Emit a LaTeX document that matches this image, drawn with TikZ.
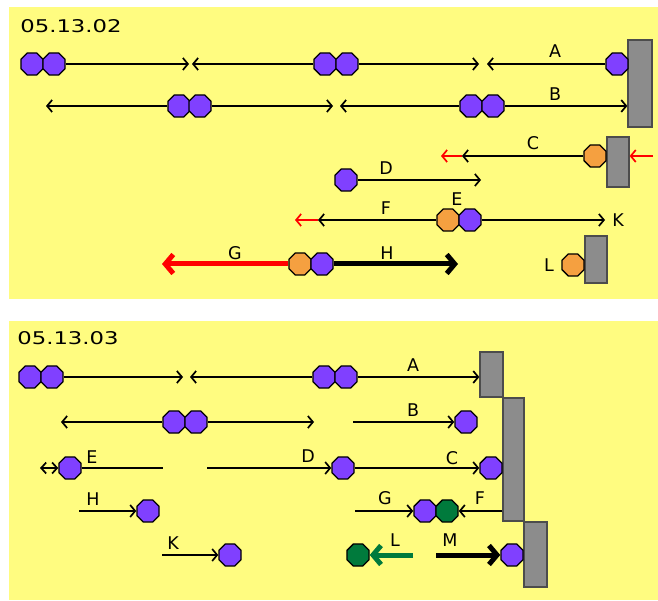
\documentclass[tikz,border=0pt]{standalone}
\usepackage{fontspec}
\setmainfont{DejaVu Sans}
\usetikzlibrary{shapes.geometric,arrows.meta}
\definecolor{panel}{RGB}{255,252,128}
\definecolor{purp}{RGB}{128,64,255}
\definecolor{oran}{RGB}{245,160,64}
\definecolor{grn}{RGB}{0,122,60}
\definecolor{wallgray}{RGB}{140,140,140}
\tikzset{
  car/.style={regular polygon, regular polygon sides=8, minimum size=24pt, inner sep=0pt, draw=black, line width=1.3pt},
  pu/.style={car, fill=purp},
  orc/.style={car, fill=oran},
  gnc/.style={car, fill=grn},
  trk/.style={line width=1.7pt, draw=black},
  hd/.style={-{Straight Barb[length=5pt,width=12pt]}},
  bigarrow/.style={line width=5pt, -{Straight Barb[length=8pt,width=19pt]}},
  wallbox/.style={rectangle, draw=black!70, fill=wallgray, line width=1.3pt, inner sep=0pt},
  lbl/.style={font=\fontsize{17.5}{17.5}\selectfont, inner sep=0pt},
  datelbl/.style={font=\fontsize{17.5}{17.5}\selectfont, inner sep=0pt}
}
\begin{document}
\begin{tikzpicture}[x=1pt,y=-1pt]
\useasboundingbox (0,0) rectangle (658,601);
\fill[white] (0,0) rectangle (658,601);
\fill[panel] (9,7) rectangle (658,299);
\fill[panel] (9,321) rectangle (658,600);

% ================= panel 1 =================
\node[datelbl] (d1) at (71,26) {\scalebox{1.3}[1]{05.13.02}};

% walls
\node[wallbox, minimum width=24pt, minimum height=87pt] (w1) at (640,83.5) {};
\node[wallbox, minimum width=22pt, minimum height=50pt] (w2) at (618,162) {};
\node[wallbox, minimum width=22pt, minimum height=47pt] (w3) at (596,259.5) {};

% row A
\node[pu] (pa1) at (32,64) {};
\node[pu] (pa2) at (54,64) {};
\node[pu] (pa3) at (325,64) {};
\node[pu] (pa4) at (347,64) {};
\node[pu] (pa5) at (617,64) {};
\coordinate (pA1) at (189,64);
\coordinate (pA2) at (192,64);
\coordinate (pA3) at (479,64);
\coordinate (pA4) at (487,64);
\draw[trk,hd] (pa2.east) -- (pA1);
\draw[trk,hd] (pa3.west) -- (pA2);
\draw[trk,hd] (pa4.east) -- (pA3);
\draw[trk,hd] (pa5.west) -- (pA4);
\node[lbl] (lA1) at (555,51) {A};

% row B
\node[pu] (pb1) at (179,106) {};
\node[pu] (pb2) at (200,106) {};
\node[pu] (pb3) at (471,106) {};
\node[pu] (pb4) at (493,106) {};
\coordinate (pB1) at (46,106);
\coordinate (pB2) at (333,106);
\coordinate (pB3) at (340,106);
\draw[trk,hd] (pb1.west) -- (pB1);
\draw[trk,hd] (pb2.east) -- (pB2);
\draw[trk,hd] (pb3.west) -- (pB3);
\draw[trk,hd] (pb4.east) -- (w1.west |- pb4);
\node[lbl] (lB1) at (555,94) {B};

% row C
\node[orc] (pc) at (595,156) {};
\coordinate (pC1) at (462,156);
\coordinate (pC2) at (441,156);
\coordinate (pC3) at (653,156);
\draw[trk,hd] (pc.west) -- (pC1);
\draw[trk,hd,draw=red] (pC1) -- (pC2);
\draw[trk,hd,draw=red] (pC3) -- (w2.east |- pC3);
\node[lbl] (lC1) at (533,143) {C};

% row D
\node[pu] (pd) at (346,180) {};
\coordinate (pD1) at (481,180);
\draw[trk,hd] (pd.east) -- (pD1);
\node[lbl] (lD1) at (386,168) {D};

% row E/F/K
\node[orc] (pe1) at (448,220) {};
\node[pu] (pe2) at (470,220) {};
\coordinate (pF1) at (318,220);
\coordinate (pF2) at (295,220);
\coordinate (pK1) at (605,220);
\draw[trk,hd] (pe2.east) -- (pK1);
\draw[trk,hd] (pe1.west) -- (pF1);
\draw[trk,hd,draw=red] (pF1) -- (pF2);
\node[lbl] (lF1) at (386,208) {F};
\node[lbl] (lE1) at (457,199) {E};
\node[lbl] (lK1) at (618,220) {K};

% row G/H
\node[orc] (pg) at (300,264) {};
\node[pu] (ph) at (322,264) {};
\coordinate (pG1) at (162,264);
\coordinate (pH1) at (458,264);
\draw[bigarrow,draw=red] (pg.west) -- (pG1);
\draw[bigarrow,draw=black] (ph.east) -- (pH1);
\node[lbl] (lG1) at (235,253) {G};
\node[lbl] (lH1) at (387,253) {H};

% L
\node[orc] (pl) at (573,265) {};
\node[lbl] (lL1) at (549,265) {L};

% ================= panel 2 =================
\node[datelbl] (d2) at (68,338) {\scalebox{1.3}[1]{05.13.03}};

\node[wallbox, minimum width=23pt, minimum height=45pt] (v1) at (491.5,374.5) {};
\node[wallbox, minimum width=21pt, minimum height=123pt] (v2) at (513.5,459.5) {};
\node[wallbox, minimum width=23pt, minimum height=65pt] (v3) at (535.5,554.5) {};

% row A
\node[pu] (qa1) at (30,377) {};
\node[pu] (qa2) at (52,377) {};
\node[pu] (qa3) at (324,377) {};
\node[pu] (qa4) at (346,377) {};
\coordinate (qA1) at (183,377);
\coordinate (qA2) at (190,377);
\draw[trk,hd] (qa2.east) -- (qA1);
\draw[trk,hd] (qa3.west) -- (qA2);
\draw[trk,hd] (qa4.east) -- (v1.west |- qa4);
\node[lbl] (lA2) at (413,365) {A};

% row B
\node[pu] (qb1) at (174,422) {};
\node[pu] (qb2) at (196,422) {};
\node[pu] (qb3) at (466,422) {};
\coordinate (qB1) at (61,422);
\coordinate (qB2) at (314,422);
\coordinate (qB3) at (353,422);
\draw[trk,hd] (qb1.west) -- (qB1);
\draw[trk,hd] (qb2.east) -- (qB2);
\draw[trk,hd] (qB3) -- (qb3.west);
\node[lbl] (lB2) at (413,410) {B};

% row C/D/E
\node[pu] (qe) at (70,468) {};
\node[pu] (qd) at (343,468) {};
\node[pu] (qc) at (491,468) {};
\coordinate (qE1) at (40,468);
\coordinate (qE2) at (163,468);
\coordinate (qD1) at (207,468);
\draw[trk,{Straight Barb[length=5pt,width=11pt]}-{Straight Barb[length=5pt,width=11pt]}] (qE1) -- (qe.west);
\draw[trk] (qe.east) -- (qE2);
\draw[trk,hd] (qD1) -- (qd.west);
\draw[trk,hd] (qd.east) -- (qc.west);
\node[lbl] (lE2) at (92,457) {E};
\node[lbl] (lD2) at (308,456) {D};
\node[lbl] (lC2) at (452,458) {C};

% row G/F
\node[pu] (qg) at (425,511) {};
\node[gnc] (qf) at (447,511) {};
\coordinate (qG1) at (355,511);
\draw[trk,hd] (qG1) -- (qg.west);
\draw[trk,hd] (v2.west |- qf) -- (qf.east);
\node[lbl] (lG2) at (385,498) {G};
\node[lbl] (lF2) at (480,498) {F};

% row H
\node[pu] (qh) at (148,511) {};
\coordinate (qH1) at (79,511);
\draw[trk,hd] (qH1) -- (qh.west);
\node[lbl] (lH2) at (93,499) {H};

% row K
\node[pu] (qk) at (230,555) {};
\coordinate (qK1) at (162,555);
\draw[trk,hd] (qK1) -- (qk.west);
\node[lbl] (lK2) at (173,543) {K};

% row L/M
\node[gnc] (ql) at (358,555) {};
\node[pu] (qm) at (512,555) {};
\coordinate (qL1) at (413,555);
\coordinate (qM1) at (436,555);
\draw[bigarrow,draw=grn] (qL1) -- (ql.east);
\draw[bigarrow,draw=black] (qM1) -- (qm.west);
\node[lbl] (lL2) at (395,540) {L};
\node[lbl] (lM2) at (450,540) {M};
\end{tikzpicture}
\end{document}
